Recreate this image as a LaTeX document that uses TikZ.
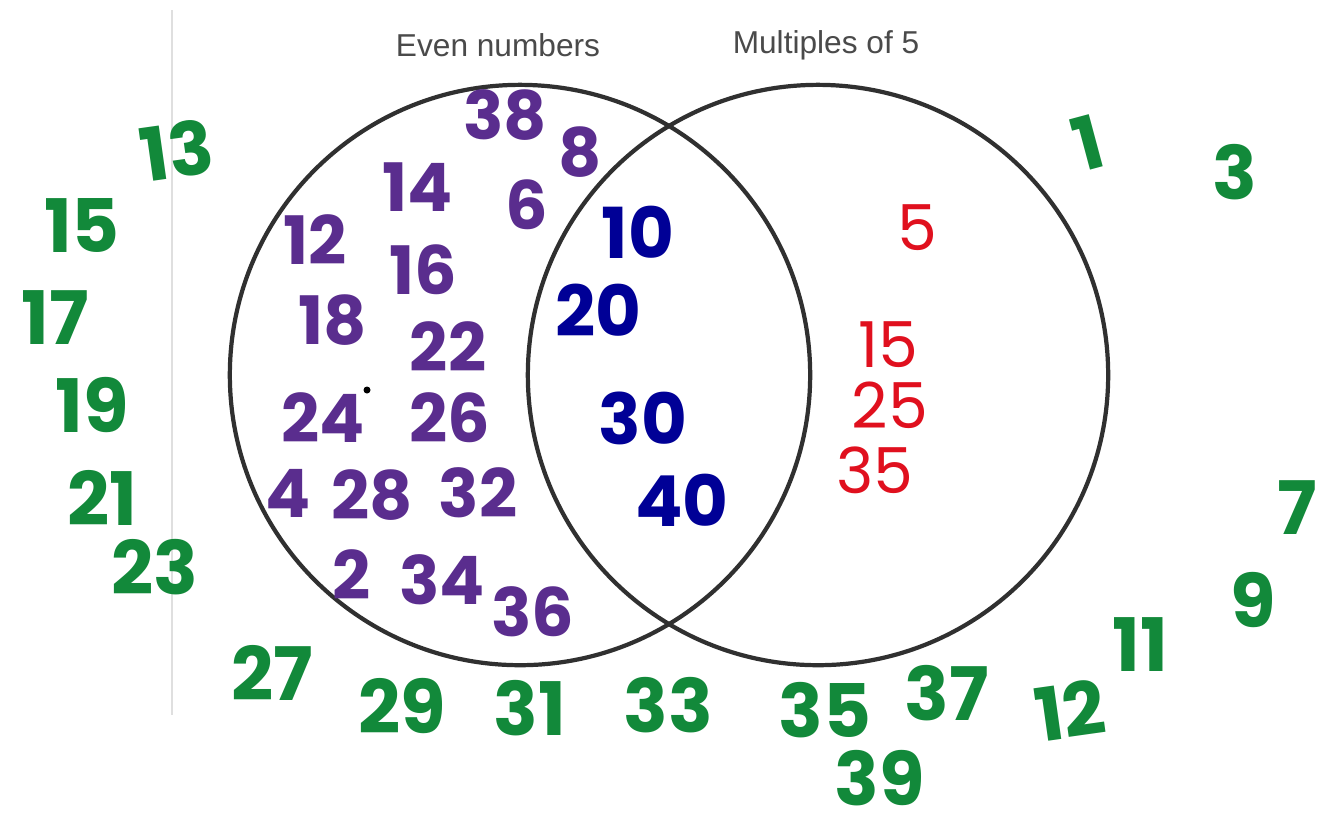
\documentclass[tikz,border=0pt]{standalone}
\usepackage{fontspec}
\setmainfont{Poppins}
\newfontfamily\labelfont{Liberation Sans}
\definecolor{numgreen}{HTML}{12893A}
\definecolor{numpurple}{HTML}{5A2D8E}
\definecolor{numblue}{HTML}{000096}
\definecolor{numred}{HTML}{E0101E}
\definecolor{labelgray}{HTML}{4A4A4A}
\definecolor{ringgray}{HTML}{303030}
\tikzset{
  greennum/.style={text=numgreen, inner sep=0, font=\bfseries\fontsize{21}{21}\selectfont},
  purnum/.style={text=numpurple, inner sep=0, font=\bfseries\fontsize{19}{19}\selectfont},
  bluenum/.style={text=numblue, inner sep=0, font=\bfseries\fontsize{20}{20}\selectfont},
  rednum/.style={text=numred, inner sep=0, font=\fontsize{18}{18}\selectfont},
  setlabel/.style={text=labelgray, inner sep=0, font=\labelfont\fontsize{9}{9}\selectfont},
  vring/.style={circle, draw=ringgray, line width=1.2pt, minimum size=5.8cm, inner sep=0},
}
\begin{document}
\begin{tikzpicture}[x=0.01cm,y=-0.01cm]
\useasboundingbox[fill=white] (0,0) rectangle (1319,823);
\coordinate (axtop) at (172,10);
\coordinate (axbot) at (172,715);
\draw[gray!25, line width=0.7pt] (axtop) -- (axbot);
\node[vring] (even) at (520,375) {};
\node[vring] (five) at (818,375) {};
\node[setlabel] (evenlab) at (498,45) {Even numbers};
\node[setlabel] (fivelab) at (826,45) {Multiples of 5};
\node[circle, fill=black, inner sep=0, minimum size=0.07cm] (dot) at (367,390) {};
% green
\node[greennum, rotate=8] (g13) at (177,150) {13};
\node[greennum] (g15) at (82,225) {15};
\node[greennum] (g17) at (55,318) {17};
\node[greennum] (g19) at (92,405) {19};
\node[greennum] (g21) at (102,498) {21};
\node[greennum] (g23) at (155,567) {23};
\node[greennum] (g27) at (272,673) {27};
\node[greennum] (g29) at (402,706) {29};
\node[greennum] (g31) at (530,708) {31};
\node[greennum] (g33) at (668,705) {33};
\node[greennum] (g35) at (825,710) {35};
\node[greennum] (g37) at (947,693) {37};
\node[greennum, rotate=8] (g12) at (1070,710) {12};
\node[greennum] (g11) at (1140,645) {11};
\node[greennum] (g9) at (1253,600) {9};
\node[greennum] (g7) at (1297,508) {7};
\node[greennum, rotate=15] (g1) at (1088,143) {1};
\node[greennum] (g3) at (1235,172) {3};
\node[greennum, text depth=0pt] (g39) at (880,778) {39};
% purple
\node[purnum] (p38) at (505,115) {38};
\node[purnum] (p8) at (580,152) {8};
\node[purnum] (p14) at (418,187) {14};
\node[purnum] (p6) at (527,205) {6};
\node[purnum] (p12) at (315,240) {12};
\node[purnum] (p16) at (423,270) {16};
\node[purnum] (p18) at (333,320) {18};
\node[purnum] (p22) at (448,347) {22};
\node[purnum] (p24) at (323,418) {24};
\node[purnum] (p26) at (450,418) {26};
\node[purnum] (p4) at (288,493) {4};
\node[purnum] (p28) at (372,495) {28};
\node[purnum] (p32) at (478,493) {32};
\node[purnum] (p2) at (352,575) {2};
\node[purnum] (p34) at (442,580) {34};
\node[purnum] (p36) at (533,612) {36};
% blue
\node[bluenum] (b10) at (638,232) {10};
\node[bluenum] (b20) at (598,310) {20};
\node[bluenum] (b30) at (643,418) {30};
\node[bluenum] (b40) at (682,500) {40};
% red
\node[rednum] (r5) at (917,228) {5};
\node[rednum] (r15) at (888,345) {15};
\node[rednum] (r25) at (890,405) {25};
\node[rednum] (r35) at (875,470) {35};
\end{tikzpicture}
\end{document}
